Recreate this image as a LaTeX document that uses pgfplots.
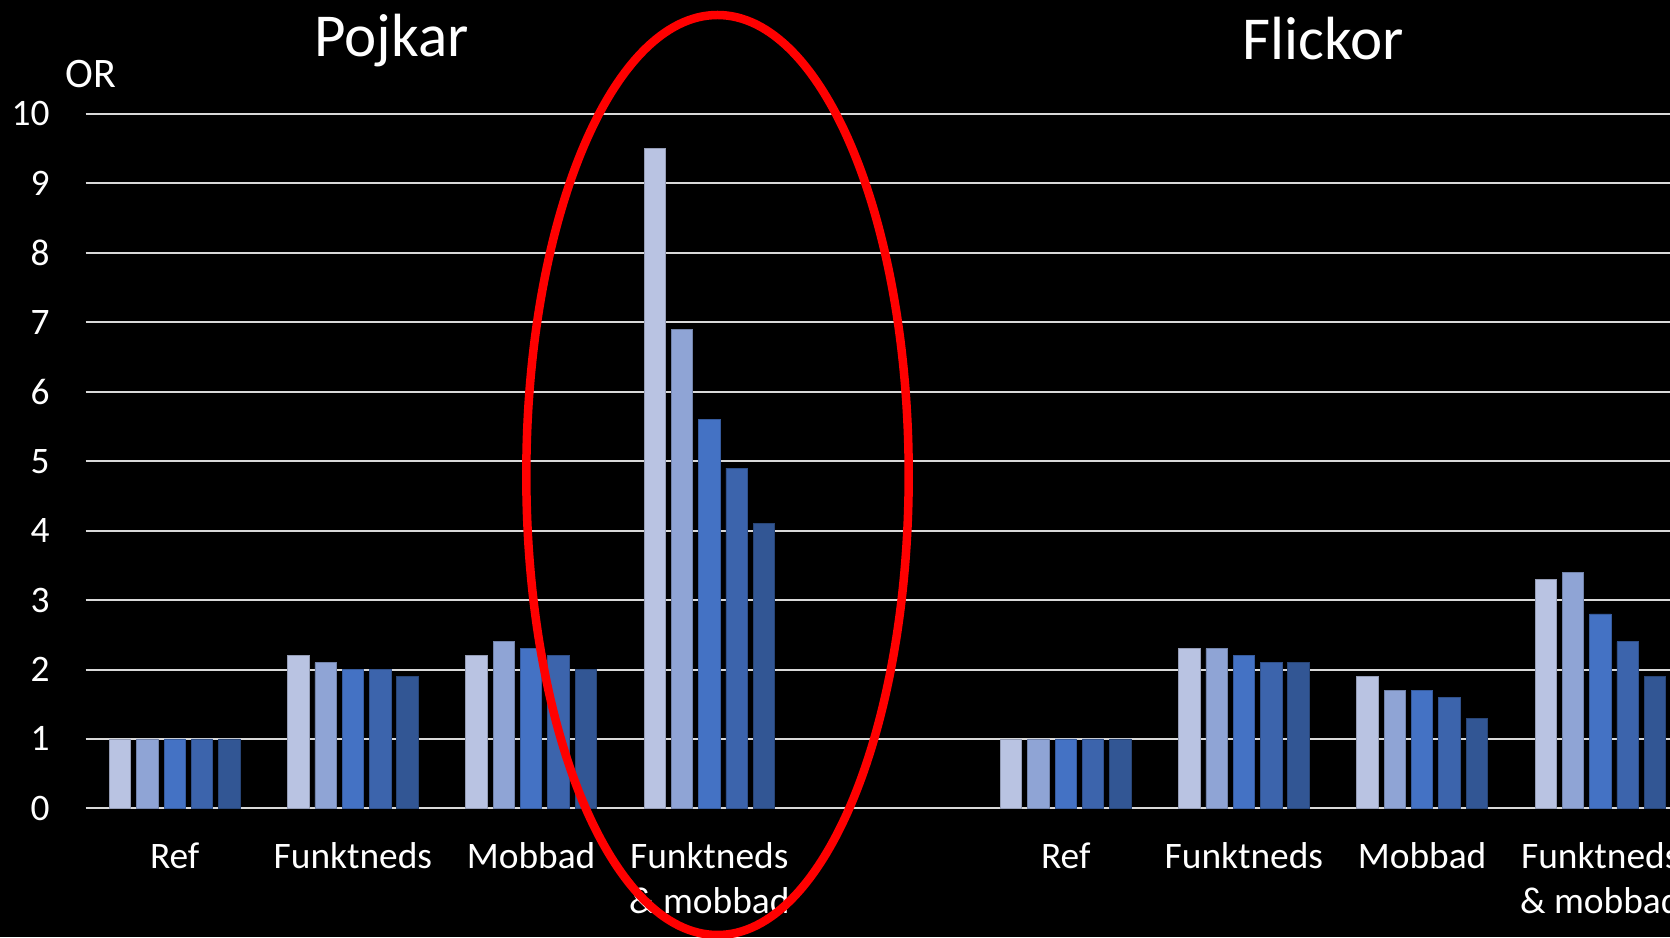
\documentclass[border=0pt]{standalone}
\usepackage{fontspec}
\setmainfont{Carlito}
\usepackage{pgfplots}
\pgfplotsset{compat=1.18}
\definecolor{c1}{HTML}{B9C3E2}
\definecolor{c2}{HTML}{8FA4D5}
\definecolor{c3}{HTML}{4472C4}
\definecolor{c4}{HTML}{3C64AC}
\definecolor{c5}{HTML}{325694}
\definecolor{gridc}{HTML}{D9D9D9}
\begin{document}
\begin{tikzpicture}[x=1pt,y=1pt]
\fill[black] (0,0) rectangle (835,468.5);
\begin{axis}[
  at={(42.8pt,64.3pt)}, anchor=south west,
  scale only axis, width=792.2pt, height=347.2pt,
  xmin=-0.5, xmax=8.391, ymin=0, ymax=10,
  clip=false,
  axis line style={draw=none},
  ymajorgrids, grid style={draw=gridc, line width=1pt},
  ytick={0,1,...,10},
  xtick={0,1,2,3,5,6,7,8},
  xticklabels={Ref,Funktneds,Mobbad,{Funktneds\\\& mobbad},Ref,Funktneds,Mobbad,{Funktneds\\\& mobbad}},
  major tick length=0pt,
  tick style={draw=none},
  ticklabel style={font=\fontsize{18.7}{22.5}\selectfont, text=white},
  yticklabel style={anchor=east, inner sep=0pt, xshift=-17.8pt},
  xticklabel style={anchor=north, inner sep=0pt, align=center, yshift=-17pt},
  /pgf/number format/assume math mode=true,
  ybar=2.95pt, bar width=10.7pt,
]
\addplot[fill=c1, draw=c1!80!black, line width=0.4pt] coordinates {(0,1) (1,2.2) (2,2.2) (3,9.5) (5,1) (6,2.3) (7,1.9) (8,3.3)};
\addplot[fill=c2, draw=c2!80!black, line width=0.4pt] coordinates {(0,1) (1,2.1) (2,2.4) (3,6.9) (5,1) (6,2.3) (7,1.7) (8,3.4)};
\addplot[fill=c3, draw=c3!80!black, line width=0.4pt] coordinates {(0,1) (1,2.0) (2,2.3) (3,5.6) (5,1) (6,2.2) (7,1.7) (8,2.8)};
\addplot[fill=c4, draw=c4!80!black, line width=0.4pt] coordinates {(0,1) (1,2.0) (2,2.2) (3,4.9) (5,1) (6,2.1) (7,1.6) (8,2.4)};
\addplot[fill=c5, draw=c5!80!black, line width=0.4pt] coordinates {(0,1) (1,1.9) (2,2.0) (3,4.1) (5,1) (6,2.1) (7,1.3) (8,1.9)};
\end{axis}
\draw[red, line width=4.25pt] (358.75,231) ellipse [x radius=95.6, y radius=230];
\node[anchor=base, text=white, inner sep=0pt, font=\fontsize{30.5}{36}\selectfont] at (195.8,440.2) {Pojkar};
\node[anchor=base, text=white, inner sep=0pt, font=\fontsize{30.5}{36}\selectfont] at (661.7,438.7) {Flickor};
\node[anchor=base, text=white, inner sep=0pt, font=\fontsize{21}{25}\selectfont] at (45.6,424.9) {OR};
\pgfresetboundingbox
\useasboundingbox (0,0) rectangle (835,468.5);
\end{tikzpicture}
\end{document}
